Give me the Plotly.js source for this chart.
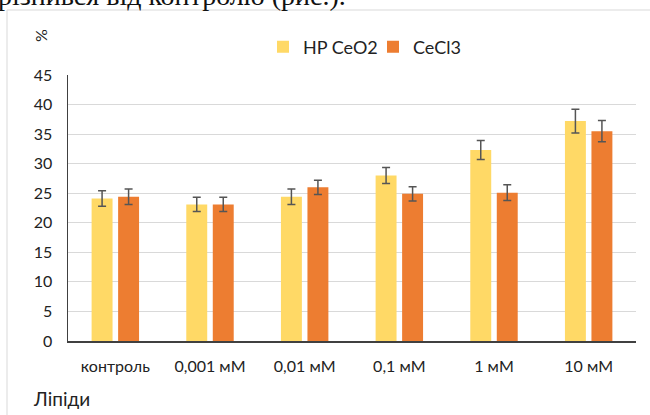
<!DOCTYPE html>
<html>
<head>
<meta charset="utf-8">
<script src="https://cdn.plot.ly/plotly-3.0.1.min.js"></script>
<style>
  html, body { margin: 0; padding: 0; background: #fff; overflow: hidden; }
  #wrap { position: relative; width: 650px; height: 415px; overflow: hidden; }
  #caption { position: absolute; left: -2px; top: -18px; font-family: "Liberation Serif", "DejaVu Serif", serif; font-size: 28px; line-height: 28px; color: #111; white-space: nowrap; }
  #chart { position: absolute; left: 0; top: 0; width: 650px; height: 415px; }
</style>
</head>
<body>
<div id="wrap">
  <div id="chart"></div>
  <div id="caption">різнився від контролю (рис.).</div>
</div>
<script>
const categories = ["контроль", "0,001 мМ", "0,01 мМ", "0,1 мМ", "1 мМ", "10 мМ"];
const seriesNames = ["HP CeO2", "CeCl3"];
const ceo2Values = [24.1, 23.1, 24.4, 28.0, 32.3, 37.2];
const ceo2Errors = [1.3, 1.2, 1.3, 1.35, 1.6, 2.0];
const cecl3Values = [24.4, 23.1, 26.0, 24.9, 25.1, 35.5];
const cecl3Errors = [1.3, 1.2, 1.2, 1.2, 1.35, 1.8];
const yTicks = [0, 5, 10, 15, 20, 25, 30, 35, 40, 45];
const yTitle = "%";
const xTitle = "Ліпіди";

const FONT = "Lato, 'Open Sans', sans-serif";
const errStyle = { type: "data", visible: true, color: "#555555", thickness: 1.5, width: 4 };

const traces = [
  { type: "bar", name: seriesNames[0], x: categories, y: ceo2Values,
    marker: { color: "#FFD966" },
    error_y: Object.assign({ array: ceo2Errors }, errStyle) },
  { type: "bar", name: seriesNames[1], x: categories, y: cecl3Values,
    marker: { color: "#ED7D31" },
    error_y: Object.assign({ array: cecl3Errors }, errStyle) }
];

// plot area: x 68..636, y 75..341 (px)
const L = 68, R = 636, T = 75, B = 341;
const px = v => (v - L) / (R - L);
const py = v => (B - v) / (B - T);

const layout = {
  width: 650, height: 415,
  margin: { l: L, r: 650 - R, t: T, b: 415 - B },
  paper_bgcolor: "#ffffff", plot_bgcolor: "#ffffff",
  barmode: "group", bargap: 0.44, bargroupgap: 0.21,
  showlegend: true,
  legend: { orientation: "h", x: px(263), xanchor: "left", y: py(47), yanchor: "middle",
            entrywidth: 65, entrywidthmode: "pixels",
            font: { family: FONT, size: 18, color: "#222" }, traceorder: "normal" },
  font: { family: FONT, color: "#222" },
  xaxis: { type: "category", showgrid: false, showline: true, linecolor: "#404040", linewidth: 1.5,
           ticks: "", tickfont: { family: FONT, size: 16, color: "#222" }, ticklabelstandoff: 10, fixedrange: true },
  yaxis: { range: [0, 45], tickvals: yTicks, showgrid: true, gridcolor: "#d9d9d9", gridwidth: 1,
           showline: true, linecolor: "#404040", linewidth: 1.5, zeroline: false, ticks: "",
           tickfont: { family: FONT, size: 16, color: "#222" }, ticklabelstandoff: 11, fixedrange: true },
  annotations: [
    { text: yTitle, xref: "paper", yref: "paper", x: px(41), y: py(36), textangle: -90,
      showarrow: false, font: { family: FONT, size: 16, color: "#222" }, xanchor: "center", yanchor: "middle" },
    { text: xTitle, xref: "paper", yref: "paper", x: px(31), y: py(398), xanchor: "left", yanchor: "middle",
      showarrow: false, font: { family: FONT, size: 19, color: "#222" } }
  ],
  shapes: [
    { type: "line", xref: "paper", yref: "paper", x0: px(7), x1: px(7), y0: py(415), y1: py(10),
      line: { color: "#d9d9d9", width: 1 } },
    { type: "line", xref: "paper", yref: "paper", x0: px(7), x1: px(650), y0: py(10), y1: py(10),
      line: { color: "#d9d9d9", width: 1 } }
  ]
};

Plotly.newPlot("chart", traces, layout, { displayModeBar: false, staticPlot: true });
</script>
</body>
</html>
